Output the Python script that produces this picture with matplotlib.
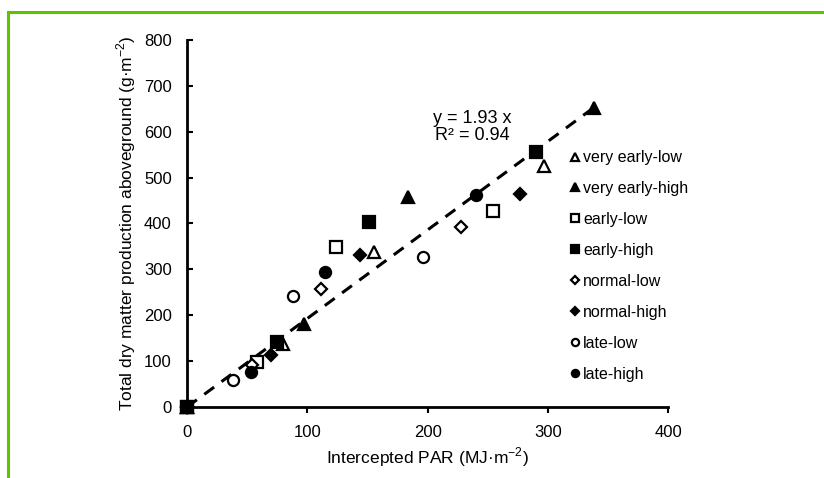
import numpy as np
import matplotlib
matplotlib.use("Agg")
import matplotlib.pyplot as plt
from matplotlib.patches import Rectangle

plt.rcParams['font.family'] = ['Liberation Sans', 'DejaVu Sans']
plt.rcParams['mathtext.fontset'] = 'custom'
plt.rcParams['mathtext.rm'] = 'Liberation Sans'

# intercepted PAR (x) and aboveground dry matter (y) per treatment
labels = ['very early-low', 'very early-high', 'early-low', 'early-high',
          'normal-low', 'normal-high', 'late-low', 'late-high']
par = [
    [0, 80, 155, 297],
    [0, 97, 184, 338],
    [0, 58, 124, 254],
    [0, 75, 151, 290],
    [0, 54, 111, 228],
    [0, 70, 144, 277],
    [0, 38, 88, 196],
    [0, 53, 115, 240],
]
dm = [
    [0, 137, 338, 525],
    [0, 180, 458, 652],
    [0, 99, 349, 428],
    [0, 142, 404, 556],
    [0, 92, 257, 393],
    [0, 113, 331, 464],
    [0, 59, 242, 327],
    [0, 77, 295, 463],
]
markers = ['^', '^', 's', 's', 'D', 'D', 'o', 'o']
filled = [False, True, False, True, False, True, False, True]
sizes = [8, 8, 8, 8, 6.5, 6.5, 8, 8]

slope = 1.93
fit_x = np.array([0, 338])

fig = plt.figure(figsize=(8.24, 4.78), dpi=100)
ax = fig.add_axes([0.227, 0.1485, 0.584, 0.768])

# green frame around the chart
fig.patches.append(Rectangle((0.0097, -0.05), 1.1, 1.025, transform=fig.transFigure,
                             fill=False, edgecolor='#5ec400', linewidth=2.2))

ax.plot(fit_x, slope * fit_x, color='black', linestyle=(0, (4, 3)), linewidth=2.2, zorder=2)

for i in range(len(labels)):
    ax.plot(par[i], dm[i], linestyle='none', marker=markers[i], markersize=sizes[i],
            markerfacecolor='black' if filled[i] else 'white',
            markeredgecolor='black', markeredgewidth=1.6,
            label=labels[i], clip_on=False, zorder=3)

ax.text(237, 610, 'y = 1.93 x\nR² = 0.94', ha='center', va='center', fontsize=13,
        linespacing=1.0)

ax.set_xlim(0, 400)
ax.set_ylim(0, 800)
ax.set_xticks(range(0, 401, 100))
ax.set_yticks(range(0, 801, 100))
for s in ['top', 'right']:
    ax.spines[s].set_visible(False)
for s in ['left', 'bottom']:
    ax.spines[s].set_linewidth(2.0)
ax.tick_params(axis='x', direction='out', length=4, width=1.5, labelsize=12, pad=9)
ax.tick_params(axis='y', direction='in', length=4, width=1.5, labelsize=12, pad=11)

ax.set_xlabel('Intercepted PAR (MJ·m$^{-2}$)', fontsize=12.5, labelpad=4)
ax.set_ylabel('Total dry matter production aboveground (g·m$^{-2}$)', fontsize=12.5, labelpad=4)

ax.legend(loc='upper left', bbox_to_anchor=(0.692, 0.686), bbox_transform=fig.transFigure,
          frameon=False, fontsize=11.5, markerscale=0.65, handlelength=0.6,
          handletextpad=0.2, borderpad=0, borderaxespad=0, labelspacing=1.0)

fig.savefig('out.png', dpi=100)
